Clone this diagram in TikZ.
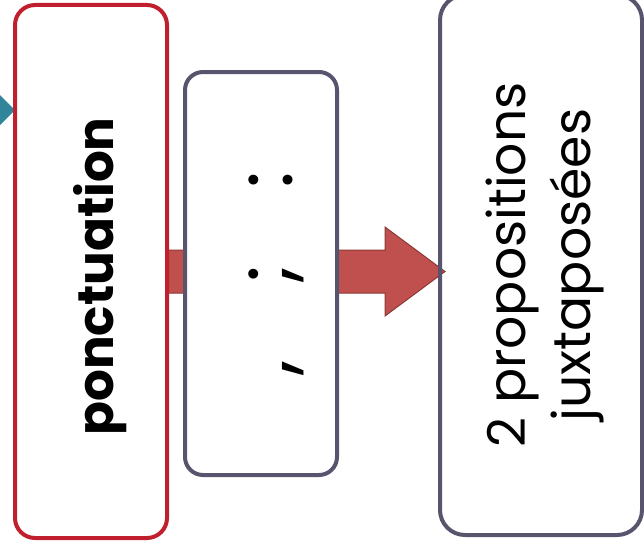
\documentclass[tikz,border=0pt]{standalone}
\usepackage{fontspec}
\setmainfont{Poppins}
\usetikzlibrary{calc,backgrounds}
\definecolor{rougecadre}{RGB}{192,32,45}
\definecolor{grisviolet}{RGB}{89,84,110}
\definecolor{rougefleche}{RGB}{192,80,77}
\definecolor{bordfleche}{RGB}{140,56,54}
\definecolor{sarcelle}{RGB}{49,133,155}
\begin{document}
\begin{tikzpicture}[x=1pt,y=-1pt,line join=round,
	boite/.style={draw=grisviolet,line width=4pt,rounded corners=20pt,inner sep=0pt}]
	\useasboundingbox (0,0) rectangle (644,551);
	\fill[sarcelle] (-30,65)--(15,110)--(-30,155)--cycle;
	\node[boite,draw=rougecadre,fill=white,minimum width=152pt,minimum height=533pt] (ponct) at (91,271.5)
		{\rotatebox{90}{\raisebox{0pt}[44pt][0pt]{\fontsize{50}{60}\selectfont\bfseries ponctuation\hspace{10pt}}}};
	\node[boite,fill=white,rounded corners=18pt,minimum width=152pt,minimum height=403pt] (signes) at (261,273.5)
		{\rotatebox{90}{\raisebox{0pt}[62pt][0pt]{\fontsize{80}{80}\selectfont\makebox[94pt]{,}\makebox[94pt]{;}\makebox[94pt]{:}}}};
	\node[boite,rounded corners=25pt,minimum width=202pt,minimum height=540pt] (prop) at (541,265)
		{\rotatebox{90}{\fontsize{52}{65}\selectfont\begin{tabular}{@{}c@{}}\rule{0pt}{52.5pt}2 propositions\\juxtaposées\end{tabular}}};
	\coordinate (bout) at ($(prop.west |- ponct.east)+(7,0)$);
	\begin{scope}[on background layer]
		\fill[rougefleche,draw=bordfleche,line width=1pt] ($(ponct.east)+(-4,-21.5)$)--($(bout)+(-60,-21.5)$)--($(bout)+(-60,-44.5)$)
			--(bout)--($(bout)+(-60,44.5)$)--($(bout)+(-60,21.5)$)--($(ponct.east)+(-4,21.5)$)--cycle;
	\end{scope}
\end{tikzpicture}
\end{document}
